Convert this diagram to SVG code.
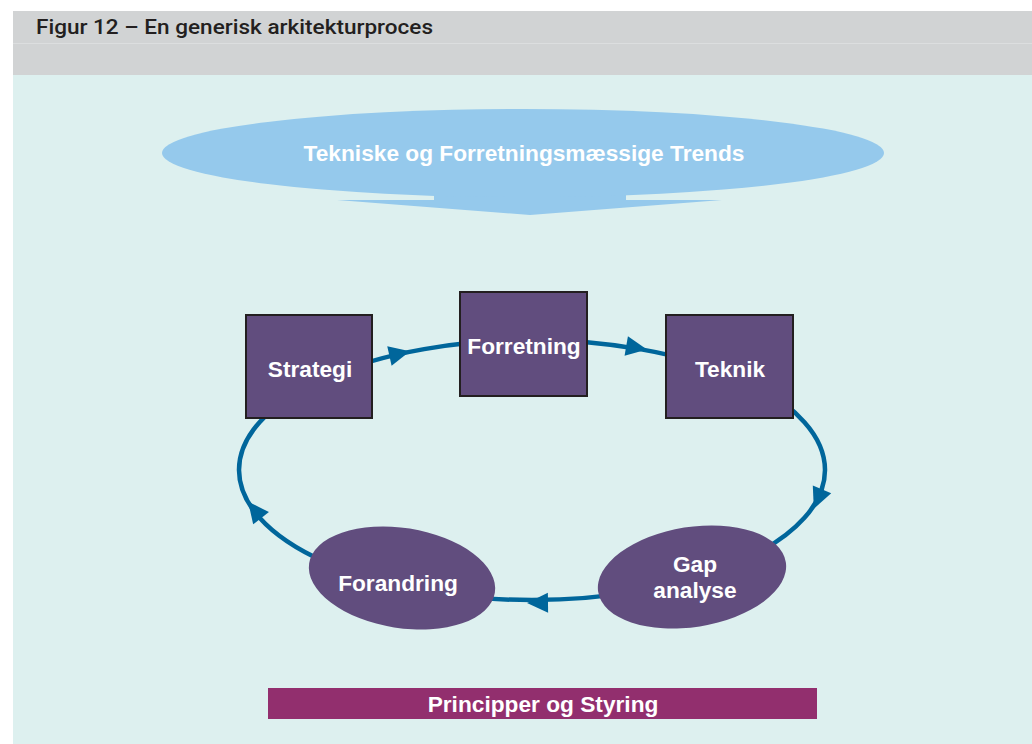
<svg xmlns="http://www.w3.org/2000/svg" width="1032" height="744" viewBox="0 0 1032 744">
  <style>
    .lbl { font-family: "Liberation Sans", Arial, sans-serif; font-weight: bold; font-size: 22.7px; fill: #ffffff; text-anchor: middle; }
    .box { fill: #614d7e; stroke: #231f20; stroke-width: 2; }
    .oval { fill: #614d7e; }
    .cycle { fill: none; stroke: #00669b; stroke-width: 4.5; }
    .head { fill: #00669b; }
  </style>
  <defs>
    <polygon id="arrowhead" class="head" points="3,0 -18,-10 -18,10"/>
  </defs>

  <!-- page panel -->
  <rect x="0" y="0" width="1032" height="744" fill="#ffffff"/>
  <rect x="13" y="11" width="1019" height="64" fill="#d1d3d4"/>
  <line x1="13" y1="43.5" x2="1032" y2="43.5" stroke="#dcdedf" stroke-width="1"/>
  <rect x="13" y="75" width="1019" height="669" fill="#ddf0ef"/>
  <text x="36" y="33.5" font-family="Roboto, 'Liberation Sans', sans-serif" font-weight="500" font-size="20.5" fill="#231f20" textLength="397" lengthAdjust="spacingAndGlyphs">Figur 12 – En generisk arkitekturproces</text>

  <!-- trends banner with downward arrow -->
  <g id="trends">
    <polygon points="434,186 626,186 626,200 722,200 530,215 337,200 434,200" fill="#95c9ec"/>
    <ellipse cx="523" cy="153" rx="361" ry="44" fill="#95c9ec"/>
    <text class="lbl" x="524" y="161">Tekniske og Forretningsmæssige Trends</text>
  </g>

  <!-- process cycle -->
  <g id="connectors">
    <ellipse class="cycle" cx="532" cy="470" rx="293" ry="130"/>
    <use href="#arrowhead" transform="translate(407,352) rotate(-12.6)"/>
    <use href="#arrowhead" transform="translate(644,349) rotate(9.6)"/>
    <use href="#arrowhead" transform="translate(815,506) rotate(112.9)"/>
    <use href="#arrowhead" transform="translate(530,603) rotate(179.3)"/>
    <use href="#arrowhead" transform="translate(250,504) rotate(-127.8)"/>
  </g>

  <g id="strategi">
    <rect class="box" x="246" y="315" width="126" height="103"/>
    <text class="lbl" x="310" y="377">Strategi</text>
  </g>
  <g id="forretning">
    <rect class="box" x="460" y="292" width="127" height="104"/>
    <text class="lbl" x="524" y="354">Forretning</text>
  </g>
  <g id="teknik">
    <rect class="box" x="666" y="315" width="127" height="103"/>
    <text class="lbl" x="730" y="377">Teknik</text>
  </g>
  <g id="gap-analyse">
    <ellipse class="oval" cx="692" cy="577" rx="95" ry="50" transform="rotate(-9 692 577)"/>
    <text class="lbl" x="695" y="572">Gap</text>
    <text class="lbl" x="695" y="598">analyse</text>
  </g>
  <g id="forandring">
    <ellipse class="oval" cx="402" cy="578" rx="94" ry="50" transform="rotate(9 402 578)"/>
    <text class="lbl" x="398" y="591">Forandring</text>
  </g>

  <g id="principper">
    <rect x="268" y="688" width="549" height="31" fill="#922f6e"/>
    <text class="lbl" x="543" y="712">Principper og Styring</text>
  </g>
</svg>
